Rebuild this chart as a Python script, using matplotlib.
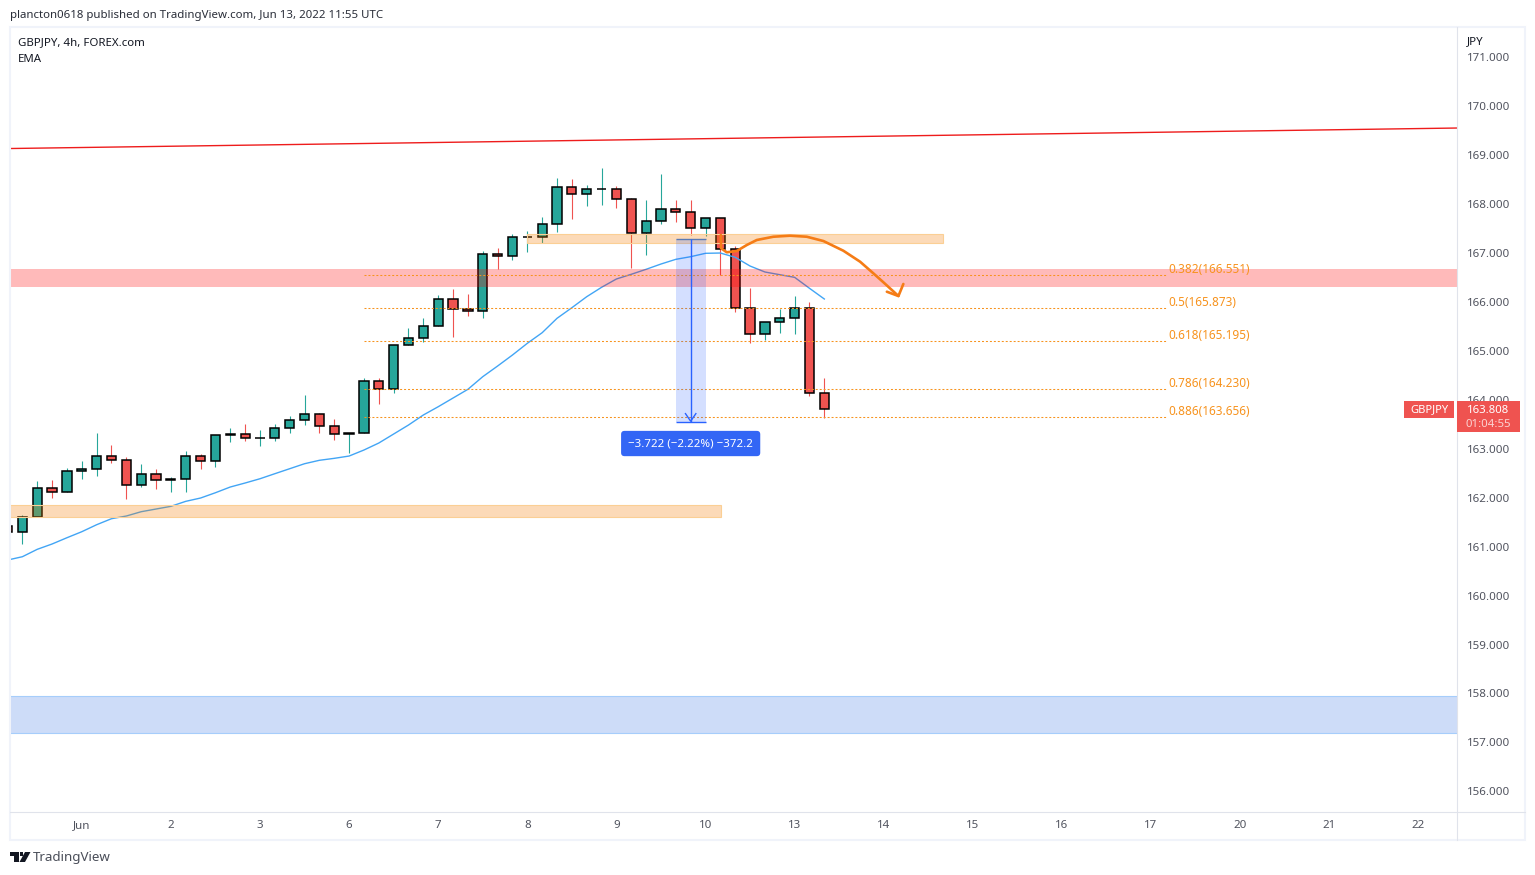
import matplotlib
matplotlib.use('Agg')
import matplotlib.pyplot as plt
from matplotlib.patches import Rectangle, Polygon
import numpy as np

# 4h candles, bar index 0..55
opens = [161.423, 161.306, 161.600, 162.193, 162.111, 162.541, 162.582, 162.847, 162.766, 162.254,
         162.479, 162.357, 162.377, 162.847, 162.745, 163.277, 163.297, 163.215, 163.215, 163.420,
         163.583, 163.706, 163.461, 163.297, 163.317, 164.381, 164.217, 165.116, 165.259, 165.505,
         166.057, 165.852, 165.811, 166.977, 166.948, 167.324, 167.324, 167.590, 168.346, 168.203,
         168.305, 168.305, 168.101, 167.406, 167.651, 167.897, 167.835, 167.508, 167.713, 167.079,
         165.873, 165.341, 165.587, 165.668, 165.873, 164.135]
highs = [161.423, 161.647, 162.342, 162.363, 162.608, 162.751, 163.324, 163.078, 162.827, 162.690,
         162.588, 162.418, 162.956, 162.894, 163.277, 163.426, 163.508, 163.385, 163.508, 163.671,
         164.100, 163.732, 163.610, 163.317, 164.442, 164.442, 165.116, 165.470, 165.668, 166.145,
         166.261, 166.159, 167.038, 167.099, 167.385, 167.453, 167.733, 168.530, 168.516, 168.387,
         168.735, 168.373, 168.121, 168.087, 168.618, 168.087, 168.087, 167.713, 167.713, 167.146,
         166.288, 165.587, 165.858, 166.124, 166.002, 164.448]
lows = [161.306, 161.061, 161.600, 162.001, 162.111, 162.389, 162.451, 162.704, 161.981, 162.226,
        162.179, 162.124, 162.124, 162.588, 162.635, 163.146, 163.166, 163.064, 163.166, 163.330,
        163.493, 163.330, 163.187, 162.921, 163.317, 163.923, 164.135, 165.116, 165.190, 165.505,
        165.292, 165.721, 165.681, 166.670, 166.866, 167.030, 167.214, 167.439, 167.698, 167.970,
        167.991, 167.923, 166.703, 166.968, 167.590, 167.643, 167.371, 167.357, 166.553, 165.797,
        165.170, 165.225, 165.374, 165.347, 164.080, 163.636]
closes = [161.306, 161.600, 162.193, 162.111, 162.541, 162.582, 162.847, 162.766, 162.254, 162.479,
          162.357, 162.377, 162.847, 162.745, 163.277, 163.297, 163.215, 163.220, 163.420, 163.583,
          163.706, 163.461, 163.297, 163.317, 164.381, 164.217, 165.116, 165.259, 165.505, 166.057,
          165.852, 165.811, 166.977, 166.948, 167.324, 167.330, 167.590, 168.346, 168.203, 168.305,
          168.310, 168.101, 167.406, 167.651, 167.897, 167.835, 167.508, 167.713, 167.079, 165.873,
          165.341, 165.587, 165.668, 165.873, 164.135, 163.808]
ema = [160.727, 160.795, 160.946, 161.055, 161.183, 161.306, 161.449, 161.572, 161.627, 161.715,
       161.770, 161.825, 161.927, 161.995, 162.103, 162.220, 162.302, 162.389, 162.492, 162.594,
       162.696, 162.766, 162.806, 162.853, 162.976, 163.119, 163.303, 163.487, 163.692, 163.861,
       164.039, 164.217, 164.475, 164.693, 164.918, 165.157, 165.374, 165.668, 165.885, 166.110,
       166.302, 166.472, 166.568, 166.670, 166.778, 166.874, 166.928, 166.997, 167.003, 166.915,
       166.737, 166.615, 166.560, 166.506, 166.282, 166.063]

date_ticks = [5, 11, 17, 23, 29, 35, 41, 47, 53, 59, 65, 71, 77, 83, 89, 95]
date_labels = ['Jun', '2', '3', '6', '7', '8', '9', '10', '13', '14', '15', '16', '17', '20', '21', '22']
price_ticks = list(range(156, 172))

fib_levels = ['0.382', '0.5', '0.618', '0.786', '0.886']
fib_prices = [166.551, 165.873, 165.195, 164.230, 163.656]

trend_x = [0.168, 97.6]
trend_y = [169.139, 169.558]

curve_x = [48.03, 48.05, 48.43, 49.10, 49.78, 50.45, 51.57, 52.69, 53.82, 54.94, 56.28, 57.41, 58.30, 58.98, 59.99]
curve_y = [167.371, 167.099, 167.018, 167.044, 167.167, 167.269, 167.336, 167.357, 167.336, 167.248,
           167.050, 166.825, 166.588, 166.404, 166.124]
head_x = [59.21, 59.99, 60.32]
head_y = [166.212, 166.124, 166.370]

GREEN = '#26a69a'
RED = '#ef5350'
ORANGE = '#f7931e'
GRID = '#e0e3eb'
TXT = '#50535e'
W, H = 1535, 875

plt.rcParams['font.family'] = ['Noto Sans', 'DejaVu Sans']

fig = plt.figure(figsize=(W / 100, H / 100), dpi=100, facecolor='white')
ax = fig.add_axes([10 / W, 1 - 812 / H, (1457 - 10) / W, (812 - 27) / H])
ax.set_xlim(0.168, 97.6)
ax.set_ylim(155.577, 171.623)


def fx(px):
    return px / W


def fy(py):
    return 1 - py / H


# outer frame
fig.add_artist(Rectangle((fx(10), fy(840)), 1515 / W, 813 / H, fc='none', ec='#f0f3fa', lw=1.5, transform=fig.transFigure))
fig.add_artist(plt.Line2D([fx(10), fx(1525)], [fy(812), fy(812)], color=GRID, lw=0.8))
fig.add_artist(plt.Line2D([fx(1457), fx(1457)], [fy(27), fy(840)], color=GRID, lw=0.8))

for s in ax.spines.values():
    s.set_visible(False)
ax.yaxis.tick_right()
ax.set_yticks(price_ticks)
ax.set_yticklabels([f'{p}.000' for p in price_ticks], fontsize=8.3, color=TXT)
ax.set_xticks(date_ticks)
ax.set_xticklabels(date_labels, fontsize=8.3, color=TXT)
ax.tick_params(axis='y', length=0, pad=7.2)
ax.tick_params(axis='x', length=0, pad=5.5)

# candles
xs = np.arange(len(opens))
for i in xs:
    col = GREEN if closes[i] >= opens[i] else RED
    ax.vlines(i, lows[i], highs[i], color=col, lw=0.8, zorder=2)
    bottom = min(opens[i], closes[i])
    ax.bar(i, abs(closes[i] - opens[i]), bottom=bottom, width=0.62, color=col, edgecolor='black', lw=1.1, zorder=3)

ax.plot(xs, ema, color='#42a5f5', lw=1.0, zorder=4)
ax.plot(trend_x, trend_y, color='#ee1c1c', lw=1.0, zorder=4)

# zones
ax.axhspan(166.308, 166.676, color='#ff0000', alpha=0.27, lw=0, zorder=5)
ax.axhspan(157.191, 157.947, fc='#cddcf8', lw=0, zorder=1)
ax.hlines([157.191, 157.947], 0.168, 97.6, color='#a6cdfb', lw=0.8, zorder=1)
ax.add_patch(Rectangle((35, 167.201), 28, 0.191, fc='#f57c00', alpha=0.28, lw=0, zorder=5))
ax.add_patch(Rectangle((0.168, 161.613), 47.88, 0.239, fc='#f57c00', alpha=0.28, lw=0, zorder=5))
ax.add_patch(Rectangle((35, 167.201), 28, 0.191, fc='none', ec='#fbcf94', lw=0.8, zorder=5))
ax.add_patch(Rectangle((0.168, 161.613), 47.88, 0.239, fc='none', ec='#fbcf94', lw=0.8, zorder=5))

# fib retracement
for lev, p in zip(fib_levels, fib_prices):
    ax.hlines(p, 24, 78, color=ORANGE, lw=0.75, linestyles=(0, (1.9, 1.9)), zorder=5)
    ax.annotate(f'{lev}({p:.3f})', (78, p), xytext=(2, -1), textcoords='offset pixels', fontsize=8.5,
                color=ORANGE, va='bottom', ha='left', zorder=6)

# price range measure
ax.add_patch(Rectangle((45, 163.559), 2, 3.73, fc='#2962ff', alpha=0.2, lw=0, zorder=5))
ax.hlines(167.289, 45, 47, color='#5b7bb5', lw=1.0, zorder=6)
ax.hlines(163.559, 45, 47, color='#2962ff', lw=1.0, zorder=6)
ax.vlines(46, 163.559, 167.289, color='#2962ff', lw=1.0, zorder=6)
ax.plot([45.65, 46, 46.35], [163.72, 163.565, 163.72], color='#2962ff', lw=1.0, zorder=6)
ax.text(46, 163.109, '\u22123.722 (\u22122.22%) \u2212372.2', fontsize=8.3, color='white', ha='center', va='center', zorder=7,
        bbox=dict(boxstyle='round,pad=0.62,rounding_size=0.3', fc='#3366f5', ec='none'))

# hand drawn arrow
ax.plot(curve_x, curve_y, color='#f57c16', lw=1.9, solid_joinstyle='round', solid_capstyle='round', zorder=6)
ax.plot(head_x, head_y, color='#f57c16', lw=1.9, solid_joinstyle='round', solid_capstyle='round', zorder=6)

# header texts
fig.text(fx(10), fy(15.5), 'plancton0618 published on TradingView.com, Jun 13, 2022 11:55 UTC', fontsize=8.25, color='#2a2e39', va='center')
fig.text(fx(18), fy(42.5), 'GBPJPY, 4h, FOREX.com', fontsize=8.25, color='#131722', va='center')
fig.text(fx(18), fy(59.5), 'EMA', fontsize=8.25, color='#131722', va='center')
fig.text(fx(1467), fy(41.5), 'JPY', fontsize=8.25, color='#131722', va='center')

# last price tags
fig.add_artist(Rectangle((fx(1404), fy(418)), 50 / W, 17 / H, fc=RED, ec='none', transform=fig.transFigure, zorder=10))
fig.add_artist(Rectangle((fx(1457), fy(432)), 63 / W, 31 / H, fc=RED, ec='none', transform=fig.transFigure, zorder=10))
fig.text(fx(1429), fy(410), 'GBPJPY', fontsize=8, color='white', weight='bold', ha='center', va='center', zorder=11)
fig.text(fx(1488), fy(410), '163.808', fontsize=8.2, color='white', weight='bold', ha='center', va='center', zorder=11)
fig.text(fx(1488), fy(424), '01:04:55', fontsize=8.2, color='#fbd3d2', ha='center', va='center', zorder=11)

# logo
logo = '#131722'
fig.add_artist(Polygon([(fx(10), fy(852)), (fx(19), fy(852)), (fx(19), fy(862)), (fx(14.5), fy(862)), (fx(14.5), fy(856)), (fx(10), fy(856))],
                       closed=True, fc=logo, ec='none', transform=fig.transFigure))
fig.add_artist(Polygon([(fx(25), fy(852)), (fx(30.5), fy(852)), (fx(25), fy(862)), (fx(19.5), fy(862))],
                       closed=True, fc=logo, ec='none', transform=fig.transFigure))
fig.add_artist(Polygon([(fx(20), fy(852.3)), (fx(23), fy(852.3)), (fx(23), fy(856)), (fx(20), fy(856))],
                       closed=True, fc=logo, ec='none', transform=fig.transFigure))
fig.text(fx(33), fy(858), 'TradingView', fontsize=9.6, color='#4a4e59', va='center')

fig.savefig('out.png', dpi=100, facecolor='white')
